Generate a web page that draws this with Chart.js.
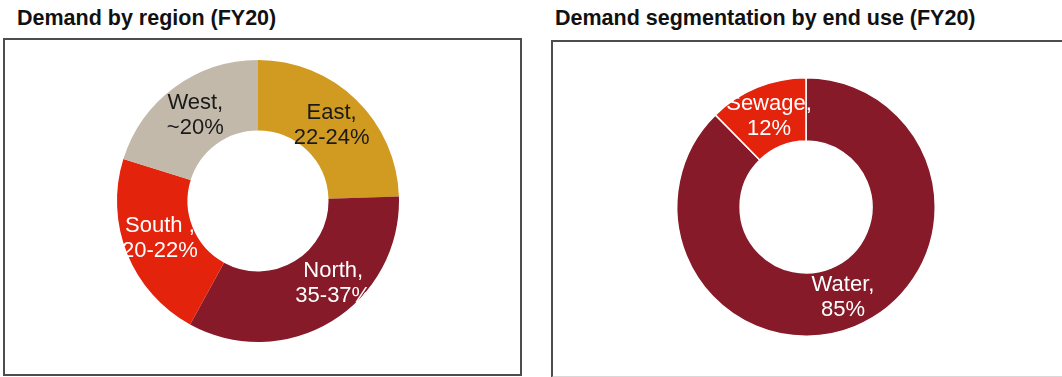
<!DOCTYPE html>
<html>
<head>
<meta charset="utf-8">
<script src="https://cdn.jsdelivr.net/npm/chart.js@4.4.1/dist/chart.umd.min.js"></script>
<style>
    body {
        margin: 0;
        width: 1062px;
        height: 377px;
        background: #fff;
        position: relative;
        overflow: hidden;
        font-family: "Liberation Sans", Arial, sans-serif;
    }
    .title {
        position: absolute;
        top: 6px;
        font-size: 21.5px;
        line-height: 24px;
        font-weight: bold;
        color: #111;
        white-space: nowrap;
    }
    .box {
        position: absolute;
        box-sizing: border-box;
        border: 2px solid #4d4d4d;
    }
    canvas {
        position: absolute;
    }
</style>
</head>
<body>
<div class="title" style="left:17px;">Demand by region (FY20)</div>
<div class="title" style="left:555px;">Demand segmentation by end use (FY20)</div>
<div class="box" style="left:3px; top:38px; width:519px; height:338px;"></div>
<div class="box" style="left:551px; top:40px; width:530px; height:338px; border-bottom-color:#d8d8d8;"></div>
<canvas id="region-chart" width="300" height="300" style="left:108px; top:51px;"></canvas>
<canvas id="use-chart" width="280" height="280" style="left:666px; top:67px;"></canvas>

<script>
    // 左图：按地区的需求
    const regionNames = ["East,", "North,", "South ,", "West,"];
    const regionRanges = ["22-24%", "35-37%", "20-22%", "~20%"];
    const regionShares = [24.5, 33.5, 21.8, 20.2];
    const regionColors = ["#d19a20", "#861a28", "#e4230c", "#c2b9aa"];
    const regionTextColors = ["#1a1a1a", "#ffffff", "#ffffff", "#1a1a1a"];

    // 右图：按终端用途的需求
    const useNames = ["Water,", "Sewage,"];
    const useRanges = ["85%", "12%"];
    const useShares = [85, 12];
    const useColors = ["#861a28", "#e4230c"];
    const useTextColors = ["#ffffff", "#ffffff"];

    // 在每个扇区中心画两行标签
    const sliceLabels = {
        id: "sliceLabels",
        afterDatasetsDraw(chart, args, opts) {
            const { ctx } = chart;
            const meta = chart.getDatasetMeta(0);
            ctx.save();
            ctx.font = '22px "Liberation Sans", Arial, sans-serif';
            ctx.textAlign = "center";
            ctx.textBaseline = "middle";
            meta.data.forEach((arc, i) => {
                const p = arc.tooltipPosition();
                const shift = (opts.shifts && opts.shifts[i]) || [0, 0];
                const lines = [opts.names[i], opts.ranges[i]];
                ctx.fillStyle = opts.colors[i];
                lines.forEach((line, j) => {
                    ctx.fillText(line, p.x + shift[0], p.y + shift[1] + (j - 0.5) * 25);
                });
            });
            ctx.restore();
        }
    };

    function makeDonut(id, labels, values, colors, border, padding, cutout, labelOpts) {
        return new Chart(document.getElementById(id).getContext("2d"), {
            type: "doughnut",
            data: {
                labels,
                datasets: [{
                    data: values,
                    backgroundColor: colors,
                    borderColor: "#ffffff",
                    borderWidth: border,
                }],
            },
            options: {
                responsive: false,
                animation: false,
                cutout,
                layout: { padding },
                plugins: {
                    legend: { display: false },
                    tooltip: { enabled: false },
                    sliceLabels: labelOpts,
                },
            },
            plugins: [sliceLabels],
        });
    }

    makeDonut("region-chart", regionNames, regionShares, regionColors, 0, 9, "50%", {
        names: regionNames,
        ranges: regionRanges,
        colors: regionTextColors,
        shifts: [[0, 0], [20, -8], [0, -2], [0, 0]],
    });

    makeDonut("use-chart", useNames, useShares, useColors, 1.5, 10, "51%", {
        names: useNames,
        ranges: useRanges,
        colors: useTextColors,
    });
</script>
</body>
</html>
